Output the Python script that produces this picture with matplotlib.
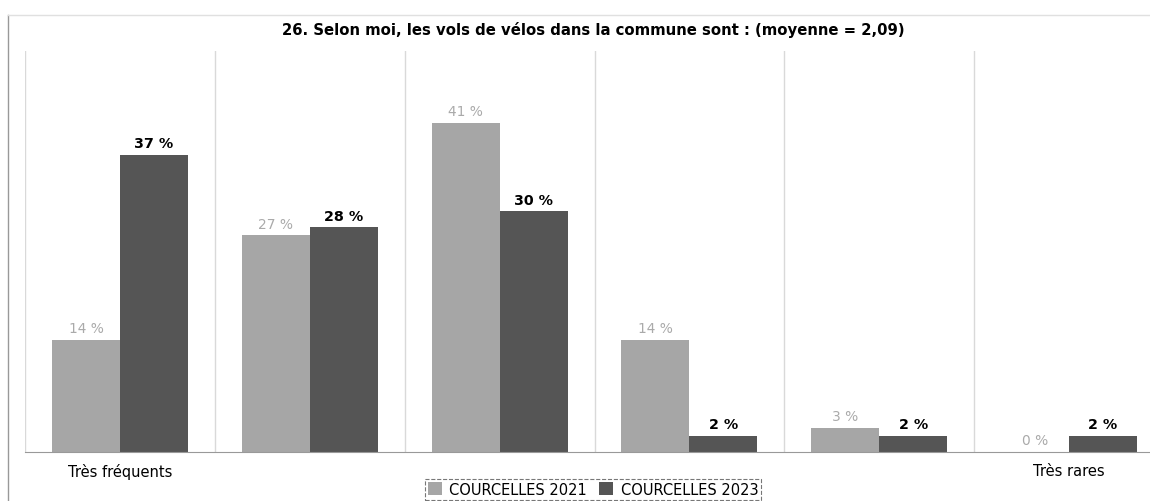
import matplotlib
matplotlib.use("Agg")
import matplotlib.pyplot as plt
import numpy as np

categories = ["Très fréquents", "", "", "", "", "Très rares"]
series_names = ["COURCELLES 2021", "COURCELLES 2023"]
values_2021 = [14, 27, 41, 14, 3, 0]
values_2023 = [37, 28, 30, 2, 2, 2]
title = "26. Selon moi, les vols de vélos dans la commune sont : (moyenne = 2,09)"

plt.rcParams['font.family'] = ['DejaVu Sans']
fig = plt.figure(figsize=(11.5, 5.02), dpi=100)
ax = fig.add_axes([25/1150, 49/502, 1139/1150, 401/502])

x = np.arange(len(categories))
w = 68/190
c21, c23 = "#a6a6a6", "#555555"
b1 = ax.bar(x - w/2, values_2021, w, color=c21, label=series_names[0], zorder=2)
b2 = ax.bar(x + w/2, values_2023, w, color=c23, label=series_names[1], zorder=2)
for xi, v in zip(x, values_2021):
    ax.text(xi - w/2, v + 0.6, f"{v} %", ha="center", va="bottom", color="#aaaaaa", fontsize=9.9)
for xi, v in zip(x, values_2023):
    ax.text(xi + w/2, v + 0.6, f"{v} %", ha="center", va="bottom", color="black", fontsize=10.3, fontweight="bold")

ax.set_xlim(-0.5, len(categories) - 0.5)
ax.set_ylim(0, 50)
for b in np.arange(-0.5, len(categories), 1):
    ax.axvline(b, color="#d9d9d9", lw=1, zorder=1)
for s in ["top", "right", "left"]:
    ax.spines[s].set_visible(False)
ax.spines["bottom"].set_color("#999999")
ax.set_yticks([])
ax.set_xticks(x)
ax.set_xticklabels(categories, fontsize=10.5)
ax.tick_params(axis="x", length=0, pad=8)

fig.text(593/1150, 1 - 30/502, title, ha="center", va="center", fontsize=10.7, fontweight="bold")

# frame lines
fig.add_artist(plt.Line2D([8/1150, 8/1150], [0, 1 - 16/502], color="#999999", lw=1))
fig.add_artist(plt.Line2D([8/1150, 1], [1 - 16/502, 1 - 16/502], color="#e0e0e0", lw=1))

leg = fig.legend(handles=[b1, b2], loc="lower center", bbox_to_anchor=(593/1150, 0.0),
                 ncol=2, frameon=True, fontsize=10.5, handlelength=1.0, handleheight=1.0,
                 handletextpad=0.5, columnspacing=0.8, borderpad=0.2, borderaxespad=0.1,
                 fancybox=False)
leg.get_frame().set_linestyle("--")
leg.get_frame().set_edgecolor("#555555")
leg.get_frame().set_linewidth(0.8)

fig.savefig("out.png", dpi=100)
